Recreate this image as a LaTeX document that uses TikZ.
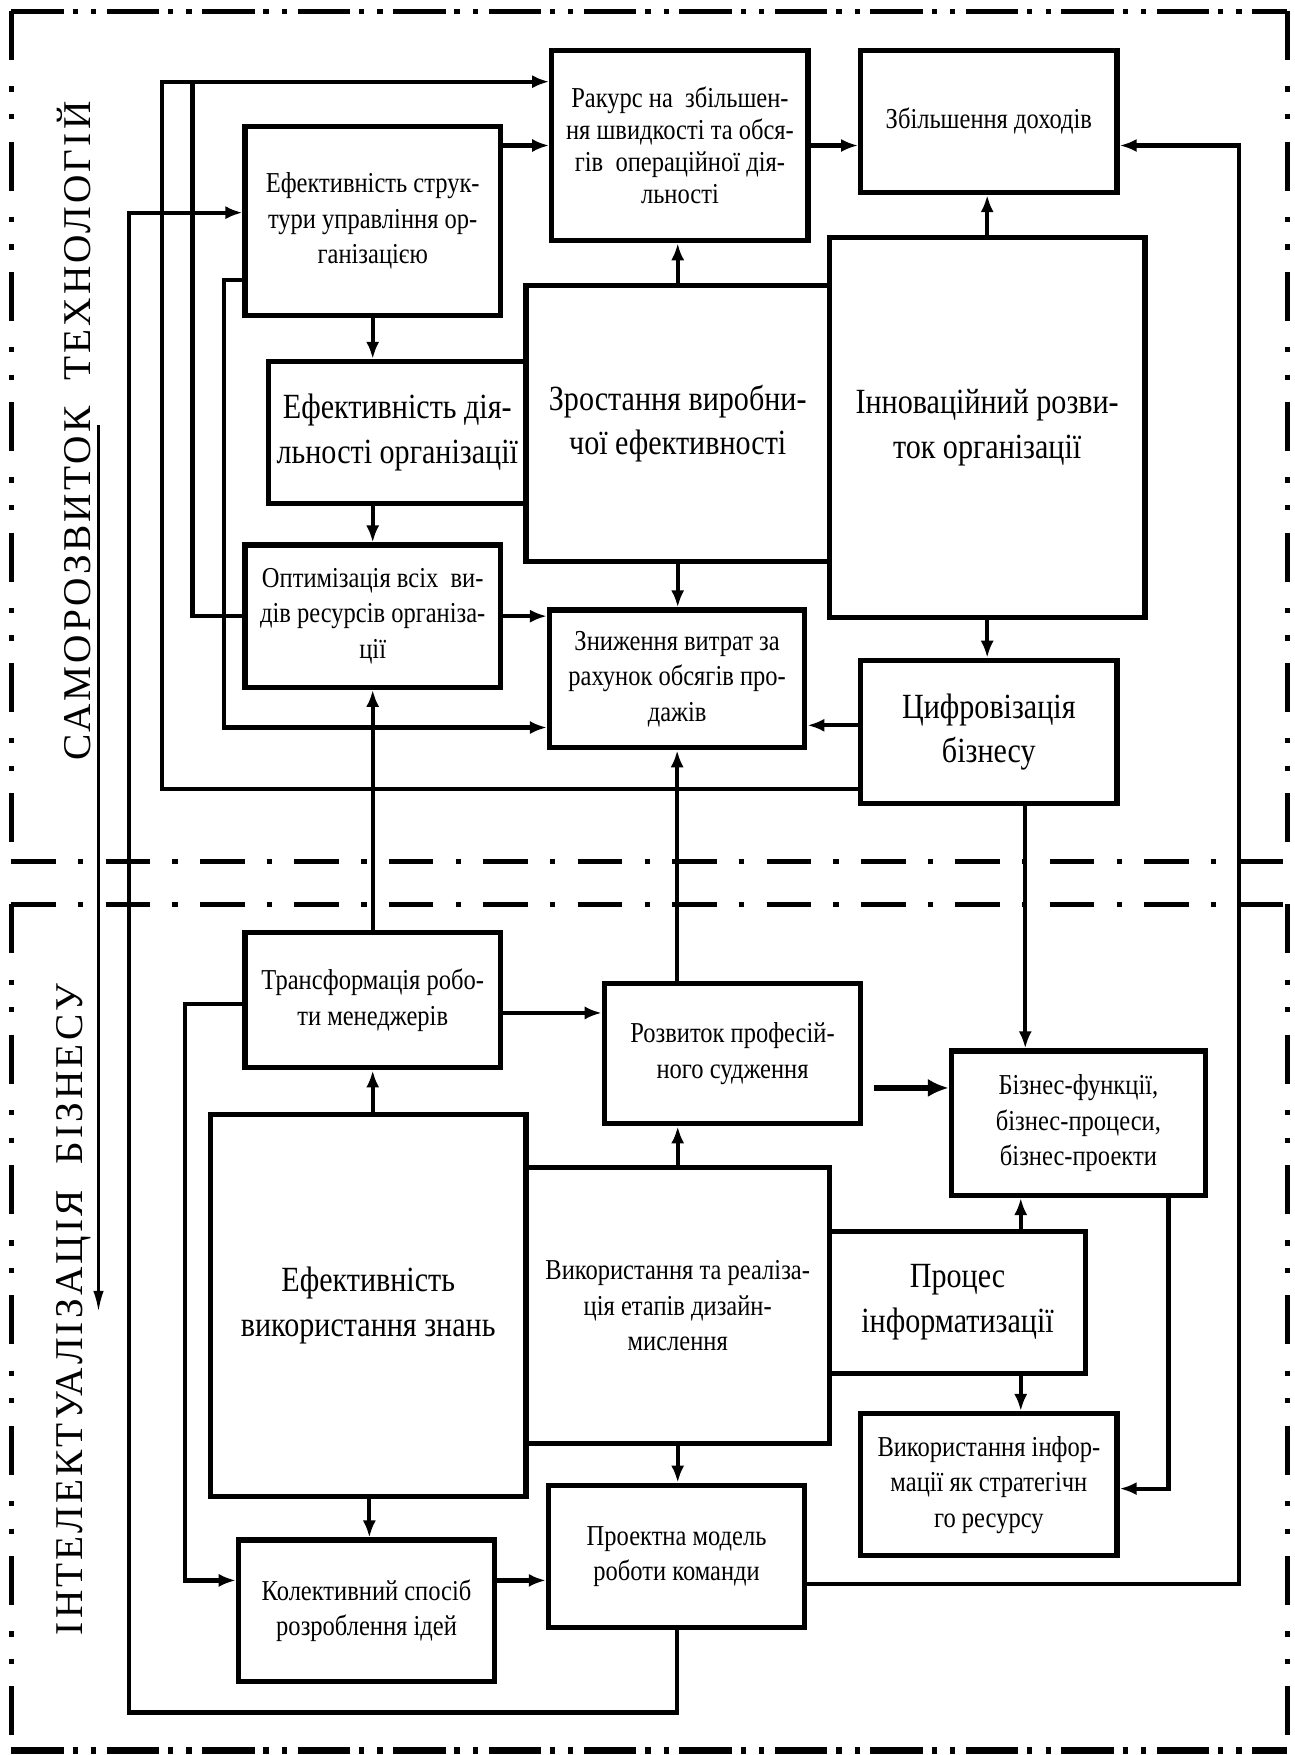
\documentclass[tikz,border=0pt]{standalone}
\usepackage{fontspec}
\setmainfont[FakeStretch=0.85]{Liberation Serif}
\newfontfamily\vertfont[LetterSpace=8]{Liberation Serif}
\usetikzlibrary{arrows.meta}
\tikzset{
  basic/.style  = {draw, line width=2pt, fill=white, align=center, inner sep=2pt},
  small/.style  = {basic, font=\fontsize{11}{13.5}\selectfont},
  large/.style  = {basic, font=\fontsize{13.5}{17}\selectfont},
  sz/.style 2 args = {minimum width=#1*0.015cm, minimum height=#2*0.015cm},
  vlabel/.style = {rotate=90, font=\vertfont\fontsize{15}{15}\selectfont},
  link/.style   = {line width=1.6pt},
  arr/.style    = {link, ->},
  fatarr/.style = {line width=2.6pt, -{Latex[length=8pt,width=7pt]}, shorten <=4pt},
  thinarr/.style = {line width=1pt, -{Latex[length=8pt,width=4pt]}},
  frame/.style  = {line width=2pt},
  dashdotdot/.style = {frame, dash pattern=on 20pt off 3.4pt on 2pt off 5pt on 2pt off 4pt},
  sidedash/.style   = {frame, dash pattern=on 18.7pt off 10pt on 2pt off 8.5pt on 2pt off 8.5pt},
  dashdot/.style    = {frame, dash pattern=on 17pt off 8.5pt on 2pt off 8.5pt}
}

\begin{document}
\begin{tikzpicture}[x=0.015cm, y=-0.015cm, >={Latex[length=6.5pt,width=5pt]}]
\useasboundingbox (0,0) rectangle (1157,1568);

% frames of the two levels
\draw[dashdotdot] (10,10) -- (1150,10);
\draw[sidedash] (10,10) -- (10,770);
\draw[sidedash] (1150,10) -- (1150,770);
\draw[dashdot] (10,770) -- (1150,770);
\draw[dashdot] (10,808) -- (1150,808);
\draw[sidedash] (10,808) -- (10,1560);
\draw[sidedash] (1150,808) -- (1150,1560);
\draw[dashdotdot, line width=3pt] (10,1564) -- (1150,1564);

% captions of the levels
\node[vlabel] (selfdev) at (66,385) {САМОРОЗВИТОК\ \ ТЕХНОЛОГІЙ};
\node[vlabel] (intel) at (66,1170) {ІНТЕЛЕКТУАЛІЗАЦІЯ\ \ БІЗНЕСУ};
\coordinate (flowtop) at (88,380);
\coordinate (flowend) at (88,1172);
\draw[thinarr] (flowtop) -- (flowend);

% upper level
\node[small, sz={229}{170}, font=\fontsize{11}{12.2}\selectfont] (rakurs) at (607.5,130)
  {Ракурс на\ \ збільшен-\\ня швидкості та обся-\\гів\ \ операційної дія-\\льності};
\node[small, sz={229}{127}] (dohody) at (883.5,108.5) {Збільшення доходів};
\node[small, sz={228}{169}] (struktura) at (333,197.5)
  {Ефективність струк-\\тури управління ор-\\ганізацією};
\node[large, sz={271}{247}] (zrostannya) at (605.5,378.5) {Зростання виробни-\\чої ефективності};
\node[large, sz={282}{340}] (innov) at (882,382) {Інноваційний розви-\\ток організації};
\node[large, sz={230}{127}] (diyalnist) at (355,386.5) {Ефективність дія-\\льності організації};
\node[small, sz={228}{127}] (optym) at (333,550.5)
  {Оптимізація всіх\ \ ви-\\дів ресурсів організа-\\ції};
\node[small, sz={228}{123}] (znyzh) at (605,606.5)
  {Зниження витрат за\\рахунок обсягів про-\\дажів};
\node[large, sz={229}{128}] (tsyfr) at (883.5,654) {Цифровізація\\бізнесу};

% lower level
\node[small, sz={228}{121}] (transf) at (333,893.5) {Трансформація робо-\\ти менеджерів};
\node[small, sz={229}{125}] (rozvytok) at (654.5,941.5) {Розвиток професій-\\ного судження};
\node[small, sz={227}{129}] (biznes) at (963.5,1003.5)
  {Бізнес-функції,\\бізнес-процеси,\\бізнес-проекти};
\node[large, sz={282}{341}] (znannya) at (329,1166.5) {Ефективність\\використання знань};
\node[small, sz={271}{247}] (dyzain) at (605.5,1166.5)
  {Використання та реаліза-\\ція етапів дизайн-\\мислення};
\node[large, sz={229}{127}] (proces) at (855.5,1163.5) {Процес\\інформатизації};
\node[small, sz={229}{127}] (infres) at (883.5,1326.5)
  {Використання інфор-\\мації як стратегічн\\го ресурсу};
\node[small, sz={229}{126}] (kolekt) at (327.5,1439) {Колективний спосіб\\розроблення ідей};
\node[small, sz={229}{127}] (proekt) at (604.5,1390.5) {Проектна модель\\роботи команди};

% links inside the upper level
\draw[arr] (struktura.east |- 0,130) -- (rakurs.west |- 0,130);
\draw[arr] (rakurs.east) -- (rakurs.east -| dohody.west);
\draw[arr] (innov.north) -- (innov.north |- dohody.south);
\draw[arr] (zrostannya.north) -- (zrostannya.north |- rakurs.south);
\draw[arr] (zrostannya.south) -- (zrostannya.south |- znyzh.north);
\draw[arr] (struktura.south) -- (struktura.south |- diyalnist.north);
\draw[arr] (optym.north |- diyalnist.south) -- (optym.north);
\draw[arr] (optym.east) -- (optym.east -| znyzh.west);
\draw[arr] (innov.south) -- (innov.south |- tsyfr.north);
\draw[arr] (tsyfr.west |- 0,648) -- (znyzh.east |- 0,648);
\draw[arr] (tsyfr.west |- 0,705) -| (145,73) -- (rakurs.west |- 0,73);
\draw[link] (172,73) |- (optym.west |- 0,550);
\draw[arr] (struktura.west |- 0,250) -| (200,650) -- (znyzh.west |- 0,650);

% links between the levels
\draw[arr] (transf.north) -- (transf.north |- optym.south);
\draw[arr] (znyzh.south |- rozvytok.north) -- (znyzh.south);
\draw[arr] (tsyfr.south -| 916,0) -- (biznes.north -| 916,0);
\draw[arr] (proekt.south) |- (115,1530) |- (struktura.west |- 0,190);
\draw[arr] (proekt.east |- 0,1415) -| (1107,130) -- (dohody.east |- 0,130);

% links inside the lower level
\draw[arr] (transf.east |- 0,905) -- (rozvytok.west |- 0,905);
\draw[fatarr] (rozvytok.east |- 0,972) -- (biznes.west |- 0,972);
\draw[arr] (transf.south |- znannya.north) -- (transf.south);
\draw[arr] (dyzain.north) -- (dyzain.north |- rozvytok.south);
\draw[arr] (proces.north -| 912,0) -- (biznes.south -| 912,0);
\draw[arr] (proces.south -| 912,0) -- (infres.north -| 912,0);
\draw[arr] (biznes.south -| 1044,0) |- (infres.east |- 0,1330);
\draw[arr] (znannya.south -| 330,0) -- (kolekt.north -| 330,0);
\draw[arr] (dyzain.south) -- (dyzain.south |- proekt.north);
\draw[arr] (kolekt.east |- 0,1412) -- (proekt.west |- 0,1412);
\draw[arr] (transf.west |- 0,897) -| (165,1412) -- (kolekt.west |- 0,1412);
\end{tikzpicture}
\end{document}
